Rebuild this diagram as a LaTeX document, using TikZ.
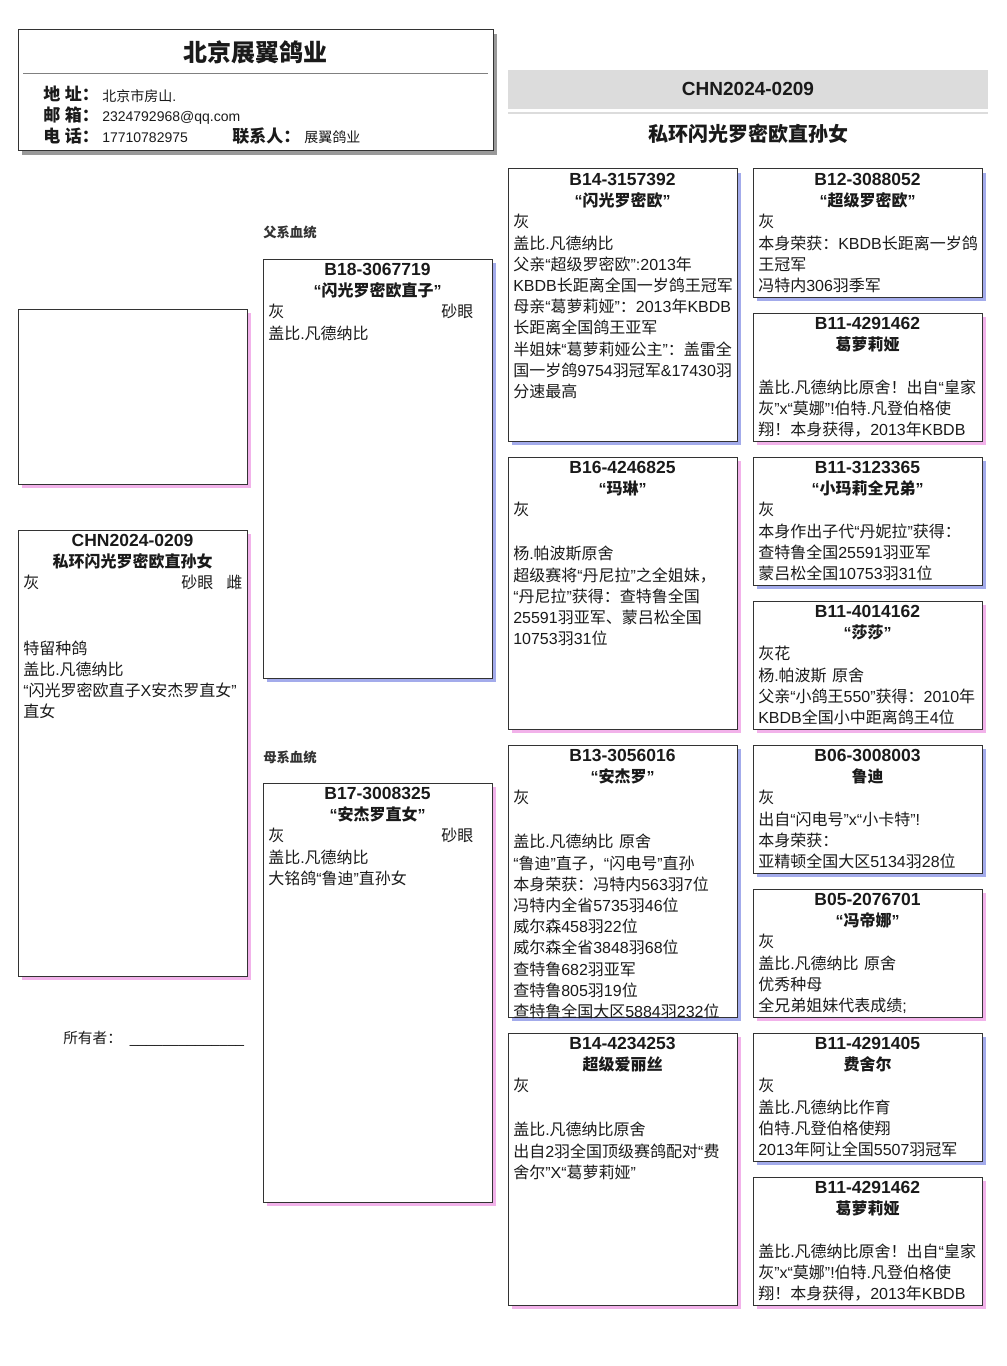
\documentclass[tikz,border=0pt]{standalone}
\usepackage{tikz}
\usepackage{fontspec}
\setmainfont{Liberation Sans}
\newfontfamily\latinf{Liberation Sans}
\newfontfamily\cjkf{Noto Sans CJK SC}
\XeTeXinterchartokenstate=1
\newXeTeXintercharclass\CJKcls
\newcount\cjkcount
\def\setcjkrange#1#2{\cjkcount=#1\relax\loop\XeTeXcharclass\cjkcount=\CJKcls\relax\ifnum\cjkcount<#2\relax\advance\cjkcount by 1\relax\repeat}
\setcjkrange{"3000}{"303F}
\setcjkrange{"4E00}{"9FFF}
\setcjkrange{"FF00}{"FFEF}
\XeTeXinterchartoks 0 \CJKcls = {\cjkf}
\XeTeXinterchartoks 4095 \CJKcls = {\cjkf}
\XeTeXinterchartoks \CJKcls 0 = {\latinf}
\XeTeXinterchartoks \CJKcls 4095 = {\latinf}

\definecolor{boxline}{HTML}{333333}
\definecolor{blueshd}{HTML}{A3ABEB}
\definecolor{pinkshd}{HTML}{F2B2EA}
\definecolor{hdrshd}{HTML}{999999}
\definecolor{bandgray}{HTML}{DCDCDC}
\definecolor{sepgray}{HTML}{808080}
\definecolor{txt}{HTML}{1A1A1A}

% name, x, y, height(px), shadow colour, id, title, body
\newcommand\pedbox[8]{%
  \fill[#5] ({#2+4},{#3+4}) rectangle ({#2+233},{#3+#4+4});
  \pgfmathsetmacro\pbh{#4*0.75}%
  \node[pbox,minimum width=171.75pt,minimum height=\pbh pt] (#1) at (#2,#3) {};
  \node[idtext] (#1-id) at ({#2+114.5},{#3+16.5}) {#6};
  \node[nametext] (#1-nm) at ({#2+114.5},{#3+37}) {#7};
  \node[bodytext] (#1-bd) at ({#2+5},{#3+43.7}) {\rule{0pt}{11.25pt}#8};
}

\begin{document}
\begin{tikzpicture}[x=0.75pt,y=-0.75pt,
  pbox/.style={draw=boxline,line width=0.75pt,fill=white,anchor=north west,inner sep=0pt,outer sep=0pt},
  idtext/.style={anchor=base,inner sep=0pt,font=\bfseries\fontsize{13.125pt}{15pt}\selectfont,text=txt},
  nametext/.style={anchor=base,inner sep=0pt,font=\bfseries\fontsize{12pt}{14pt}\selectfont,text=txt},
  bodytext/.style={anchor=north west,inner sep=0pt,align=left,text width=164.25pt,font=\fontsize{12pt}{15.9pt}\selectfont,text=txt},
  lbl/.style={anchor=base west,inner sep=0pt,font=\bfseries\fontsize{12.75pt}{14pt}\selectfont,text=txt},
  val/.style={anchor=base west,inner sep=0pt,font=\fontsize{10.5pt}{12pt}\selectfont,text=txt},
  sect/.style={anchor=base west,inner sep=0pt,font=\bfseries\fontsize{10pt}{11pt}\selectfont,text=boxline}
]
\fill[white] (0,0) rectangle (1006,1366);
\useasboundingbox (0,0) rectangle (1006,1366);

% ---------- header card ----------
\fill[hdrshd] (22,34) rectangle (497,155);
\node[pbox,minimum width=356.25pt,minimum height=90.75pt] (hdr) at (18,30) {};
\node[anchor=base,inner sep=0pt,font=\bfseries\fontsize{18pt}{20pt}\selectfont,text=txt] (hdrtitle) at (255.5,62) {北京展翼鸽业};
\coordinate (sepL) at (23,74);
\coordinate (sepR) at (488,74);
\draw[sepgray,line width=0.75pt] (sepL) -- (sepR);
\node[lbl] (l1) at (43,100.5) {地 址：};
\node[val] (v1) at (102,101.5) {北京市房山.};
\node[lbl] (l2) at (43,121.5) {邮 箱：};
\node[val] (v2) at (102,122) {2324792968@qq.com};
\node[lbl] (l3) at (43,142.5) {电 话：};
\node[val] (v3) at (102,142.7) {17710782975};
\node[lbl] (l4) at (232,142.5) {联系人：};
\node[val] (v4) at (304,143) {展翼鸽业};

% ---------- band ----------
\node[fill=bandgray,anchor=north west,inner sep=0pt,minimum width=360pt,minimum height=29.25pt] (band) at (508,70) {};
\node[anchor=base,inner sep=0pt,font=\bfseries\fontsize{14.25pt}{16pt}\selectfont,text=txt] (bandtxt) at (748,96) {CHN2024-0209};
\fill[bandgray] (508,112) rectangle (988,114.5);
\node[anchor=base,inner sep=0pt,font=\bfseries\fontsize{15pt}{17pt}\selectfont,text=txt] (maintitle) at (748,142) {私环闪光罗密欧直孙女};

% ---------- section labels ----------
\node[sect] (patlbl) at (263,237.5) {父系血统};
\node[sect] (matlbl) at (263,762.5) {母系血统};

% ---------- photo box ----------
\fill[pinkshd] (22,313) rectangle (251,488);
\node[pbox,minimum width=171.75pt,minimum height=131.25pt] (photo) at (18,309) {};

% ---------- subject ----------
\pedbox{subj}{18}{530}{446}{pinkshd}{CHN2024-0209}{私环闪光罗密欧直孙女}{灰\hfill 砂眼\kern9.75pt 雌\\[33pt]特留种鸽\\盖比.凡德纳比\\“闪光罗密欧直子X安杰罗直女”\\直女}

\node[val,font=\fontsize{11pt}{12pt}\selectfont] (owner) at (63,1043.5) {所有者：\kern6pt\_\_\_\_\_\_\_\_\_\_\_\_\_\_};

% ---------- parents ----------
\pedbox{sire}{263}{259}{419}{blueshd}{B18-3067719}{“闪光罗密欧直子”}{灰\hfill 砂眼\kern10.5pt\\盖比.凡德纳比}
\pedbox{dam}{263}{783}{419}{pinkshd}{B17-3008325}{“安杰罗直女”}{灰\hfill 砂眼\kern10.5pt\\盖比.凡德纳比\\大铭鸽“鲁迪”直孙女}

% ---------- grandparents ----------
\pedbox{ss}{508}{169}{272}{blueshd}{B14-3157392}{“闪光罗密欧”}{灰\\盖比.凡德纳比\\父亲“超级罗密欧”:2013年\\KBDB长距离全国一岁鸽王冠军\\母亲“葛萝莉娅”：2013年KBDB\\长距离全国鸽王亚军\\半姐妹“葛萝莉娅公主”：盖雷全\\国一岁鸽9754羽冠军\&17430羽\\分速最高}
\pedbox{sd}{508}{457}{272}{pinkshd}{B16-4246825}{“玛琳”}{灰\\[17.1pt]杨.帕波斯原舍\\超级赛将“丹尼拉”之全姐妹，\\“丹尼拉”获得：查特鲁全国\\25591羽亚军、蒙吕松全国\\10753羽31位}
\pedbox{ds}{508}{745}{272}{blueshd}{B13-3056016}{“安杰罗”}{灰\\[17.1pt]盖比.凡德纳比 原舍\\“鲁迪”直子，“闪电号”直孙\\本身荣获：冯特内563羽7位\\冯特内全省5735羽46位\\威尔森458羽22位\\威尔森全省3848羽68位\\查特鲁682羽亚军\\查特鲁805羽19位\\查特鲁全国大区5884羽232位}
\pedbox{dd}{508}{1033}{272}{pinkshd}{B14-4234253}{超级爱丽丝}{灰\\[17.1pt]盖比.凡德纳比原舍\\出自2羽全国顶级赛鸽配对“费\\舍尔”X“葛萝莉娅”}

% ---------- great-grandparents ----------
\pedbox{sss}{753}{169}{128}{blueshd}{B12-3088052}{“超级罗密欧”}{灰\\本身荣获：KBDB长距离一岁鸽\\王冠军\\冯特内306羽季军}
\pedbox{ssd}{753}{313}{128}{pinkshd}{B11-4291462}{葛萝莉娅}{\\盖比.凡德纳比原舍！出自“皇家\\灰”x“莫娜”!伯特.凡登伯格使\\翔！本身获得，2013年KBDB}
\pedbox{sds}{753}{457}{128}{blueshd}{B11-3123365}{“小玛莉全兄弟”}{灰\\本身作出子代“丹妮拉”获得：\\查特鲁全国25591羽亚军\\蒙吕松全国10753羽31位}
\pedbox{sdd}{753}{601}{128}{pinkshd}{B11-4014162}{“莎莎”}{灰花\\杨.帕波斯 原舍\\父亲“小鸽王550”获得：2010年\\KBDB全国小中距离鸽王4位}
\pedbox{dss}{753}{745}{128}{blueshd}{B06-3008003}{鲁迪}{灰\\出自“闪电号”x“小卡特”!\\本身荣获：\\亚精顿全国大区5134羽28位}
\pedbox{dsd}{753}{889}{128}{pinkshd}{B05-2076701}{“冯帝娜”}{灰\\盖比.凡德纳比 原舍\\优秀种母\\全兄弟姐妹代表成绩;}
\pedbox{dds}{753}{1033}{128}{blueshd}{B11-4291405}{费舍尔}{灰\\盖比.凡德纳比作育\\伯特.凡登伯格使翔\\2013年阿让全国5507羽冠军}
\pedbox{ddd}{753}{1177}{128}{pinkshd}{B11-4291462}{葛萝莉娅}{\\盖比.凡德纳比原舍！出自“皇家\\灰”x“莫娜”!伯特.凡登伯格使\\翔！本身获得，2013年KBDB}
\end{tikzpicture}
\end{document}
